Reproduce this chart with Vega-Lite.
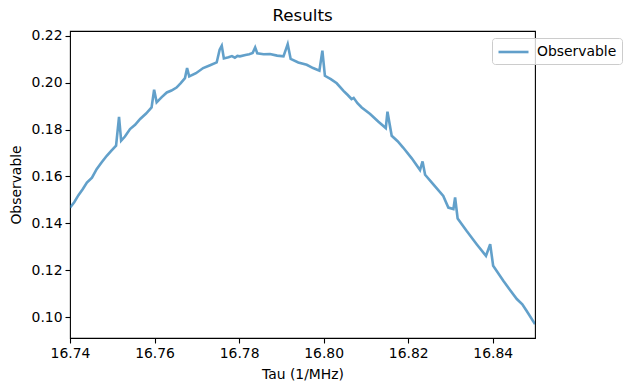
{
  "$schema": "https://vega.github.io/schema/vega-lite/v6.json",
  "width": 465,
  "height": 307,
  "autosize": {"type": "none"},
  "padding": {"left": 70, "top": 31, "right": 96, "bottom": 53},
  "title": {"text": "Results", "font": "DejaVu Sans", "fontSize": 16.7, "fontWeight": "normal", "color": "black", "offset": 4},
  "config": {
    "view": {"stroke": "black", "strokeWidth": 1.1},
    "font": "DejaVu Sans",
    "axis": {
      "grid": false,
      "domain": false,
      "tickColor": "black",
      "tickWidth": 1.1,
      "tickSize": 5,
      "labelFont": "DejaVu Sans",
      "labelFontSize": 13.9,
      "labelColor": "black",
      "labelFlush": false,
      "labelOverlap": false,
      "titleFont": "DejaVu Sans",
      "titleFontSize": 13.9,
      "titleFontWeight": "normal",
      "titleColor": "black"
    }
  },
  "data": {
    "values": [
      {"tau": 16.7400, "obs": 0.1467, "series": "Observable"},
      {"tau": 16.7410, "obs": 0.1490, "series": "Observable"},
      {"tau": 16.7420, "obs": 0.1520, "series": "Observable"},
      {"tau": 16.7430, "obs": 0.1545, "series": "Observable"},
      {"tau": 16.7440, "obs": 0.1574, "series": "Observable"},
      {"tau": 16.7452, "obs": 0.1595, "series": "Observable"},
      {"tau": 16.7463, "obs": 0.1631, "series": "Observable"},
      {"tau": 16.7475, "obs": 0.1660, "series": "Observable"},
      {"tau": 16.7487, "obs": 0.1688, "series": "Observable"},
      {"tau": 16.7498, "obs": 0.1710, "series": "Observable"},
      {"tau": 16.7509, "obs": 0.1731, "series": "Observable"},
      {"tau": 16.7516, "obs": 0.1854, "series": "Observable"},
      {"tau": 16.7521, "obs": 0.1752, "series": "Observable"},
      {"tau": 16.7530, "obs": 0.1770, "series": "Observable"},
      {"tau": 16.7542, "obs": 0.1802, "series": "Observable"},
      {"tau": 16.7554, "obs": 0.1820, "series": "Observable"},
      {"tau": 16.7566, "obs": 0.1845, "series": "Observable"},
      {"tau": 16.7580, "obs": 0.1868, "series": "Observable"},
      {"tau": 16.7593, "obs": 0.1894, "series": "Observable"},
      {"tau": 16.7599, "obs": 0.1970, "series": "Observable"},
      {"tau": 16.7605, "obs": 0.1916, "series": "Observable"},
      {"tau": 16.7617, "obs": 0.1938, "series": "Observable"},
      {"tau": 16.7629, "obs": 0.1958, "series": "Observable"},
      {"tau": 16.7640, "obs": 0.1966, "series": "Observable"},
      {"tau": 16.7652, "obs": 0.1979, "series": "Observable"},
      {"tau": 16.7662, "obs": 0.1998, "series": "Observable"},
      {"tau": 16.7672, "obs": 0.2019, "series": "Observable"},
      {"tau": 16.7677, "obs": 0.2062, "series": "Observable"},
      {"tau": 16.7682, "obs": 0.2026, "series": "Observable"},
      {"tau": 16.7698, "obs": 0.2040, "series": "Observable"},
      {"tau": 16.7715, "obs": 0.2062, "series": "Observable"},
      {"tau": 16.7730, "obs": 0.2073, "series": "Observable"},
      {"tau": 16.7747, "obs": 0.2086, "series": "Observable"},
      {"tau": 16.7754, "obs": 0.2140, "series": "Observable"},
      {"tau": 16.7759, "obs": 0.2157, "series": "Observable"},
      {"tau": 16.7764, "obs": 0.2103, "series": "Observable"},
      {"tau": 16.7775, "obs": 0.2108, "series": "Observable"},
      {"tau": 16.7783, "obs": 0.2113, "series": "Observable"},
      {"tau": 16.7790, "obs": 0.2106, "series": "Observable"},
      {"tau": 16.7796, "obs": 0.2114, "series": "Observable"},
      {"tau": 16.7802, "obs": 0.2112, "series": "Observable"},
      {"tau": 16.7815, "obs": 0.2118, "series": "Observable"},
      {"tau": 16.7824, "obs": 0.2121, "series": "Observable"},
      {"tau": 16.7832, "obs": 0.2126, "series": "Observable"},
      {"tau": 16.7838, "obs": 0.2150, "series": "Observable"},
      {"tau": 16.7843, "obs": 0.2125, "series": "Observable"},
      {"tau": 16.7858, "obs": 0.2121, "series": "Observable"},
      {"tau": 16.7873, "obs": 0.2122, "series": "Observable"},
      {"tau": 16.7890, "obs": 0.2115, "series": "Observable"},
      {"tau": 16.7905, "obs": 0.2112, "series": "Observable"},
      {"tau": 16.7915, "obs": 0.2164, "series": "Observable"},
      {"tau": 16.7922, "obs": 0.2101, "series": "Observable"},
      {"tau": 16.7940, "obs": 0.2086, "series": "Observable"},
      {"tau": 16.7960, "obs": 0.2076, "series": "Observable"},
      {"tau": 16.7975, "obs": 0.2062, "series": "Observable"},
      {"tau": 16.7990, "obs": 0.2051, "series": "Observable"},
      {"tau": 16.7997, "obs": 0.2136, "series": "Observable"},
      {"tau": 16.8003, "obs": 0.2029, "series": "Observable"},
      {"tau": 16.8017, "obs": 0.2015, "series": "Observable"},
      {"tau": 16.8031, "obs": 0.1997, "series": "Observable"},
      {"tau": 16.8047, "obs": 0.1965, "series": "Observable"},
      {"tau": 16.8057, "obs": 0.1947, "series": "Observable"},
      {"tau": 16.8066, "obs": 0.1930, "series": "Observable"},
      {"tau": 16.8071, "obs": 0.1935, "series": "Observable"},
      {"tau": 16.8080, "obs": 0.1912, "series": "Observable"},
      {"tau": 16.8090, "obs": 0.1894, "series": "Observable"},
      {"tau": 16.8110, "obs": 0.1866, "series": "Observable"},
      {"tau": 16.8129, "obs": 0.1834, "series": "Observable"},
      {"tau": 16.8147, "obs": 0.1806, "series": "Observable"},
      {"tau": 16.8151, "obs": 0.1876, "series": "Observable"},
      {"tau": 16.8161, "obs": 0.1773, "series": "Observable"},
      {"tau": 16.8175, "obs": 0.1750, "series": "Observable"},
      {"tau": 16.8188, "obs": 0.1723, "series": "Observable"},
      {"tau": 16.8208, "obs": 0.1678, "series": "Observable"},
      {"tau": 16.8228, "obs": 0.1627, "series": "Observable"},
      {"tau": 16.8234, "obs": 0.1664, "series": "Observable"},
      {"tau": 16.8240, "obs": 0.1607, "series": "Observable"},
      {"tau": 16.8259, "obs": 0.1567, "series": "Observable"},
      {"tau": 16.8283, "obs": 0.1517, "series": "Observable"},
      {"tau": 16.8295, "obs": 0.1467, "series": "Observable"},
      {"tau": 16.8307, "obs": 0.1461, "series": "Observable"},
      {"tau": 16.8311, "obs": 0.1510, "series": "Observable"},
      {"tau": 16.8317, "obs": 0.1421, "series": "Observable"},
      {"tau": 16.8338, "obs": 0.1368, "series": "Observable"},
      {"tau": 16.8362, "obs": 0.1311, "series": "Observable"},
      {"tau": 16.8384, "obs": 0.1261, "series": "Observable"},
      {"tau": 16.8394, "obs": 0.1311, "series": "Observable"},
      {"tau": 16.8401, "obs": 0.1219, "series": "Observable"},
      {"tau": 16.8425, "obs": 0.1155, "series": "Observable"},
      {"tau": 16.8440, "obs": 0.1118, "series": "Observable"},
      {"tau": 16.8457, "obs": 0.1077, "series": "Observable"},
      {"tau": 16.8470, "obs": 0.1055, "series": "Observable"},
      {"tau": 16.8480, "obs": 0.1027, "series": "Observable"},
      {"tau": 16.8500, "obs": 0.0970, "series": "Observable"}
    ]
  },
  "mark": {"type": "line", "strokeWidth": 2.6, "opacity": 0.7, "clip": true},
  "encoding": {
    "x": {
      "field": "tau", "type": "quantitative",
      "title": "Tau (1/MHz)",
      "scale": {"domain": [16.74, 16.85], "nice": false, "zero": false},
      "axis": {"values": [16.74, 16.76, 16.78, 16.80, 16.82, 16.84], "format": ".2f", "labelPadding": 3, "titleY": 29}
    },
    "y": {
      "field": "obs", "type": "quantitative",
      "title": "Observable",
      "scale": {"domain": [0.0911, 0.2220], "nice": false, "zero": false},
      "axis": {"values": [0.10, 0.12, 0.14, 0.16, 0.18, 0.20, 0.22], "format": ".2f", "labelPadding": 3, "titlePadding": 8}
    },
    "color": {
      "field": "series", "type": "nominal",
      "scale": {"range": ["#1f77b4"]},
      "legend": {
        "title": null,
        "orient": "none",
        "legendX": 422,
        "legendY": 7,
        "symbolType": "M-2,0L2,0",
        "symbolSize": 225,
        "symbolOffset": 7.5,
        "symbolStrokeWidth": 2.6,
        "symbolOpacity": 0.7,
        "labelFont": "DejaVu Sans",
        "labelFontSize": 13.9,
        "labelColor": "black",
        "padding": 5,
        "strokeColor": "#cccccc",
        "fillColor": "rgba(255,255,255,0.8)",
        "cornerRadius": 3,
        "labelOffset": 14.5
      }
    }
  }
}
